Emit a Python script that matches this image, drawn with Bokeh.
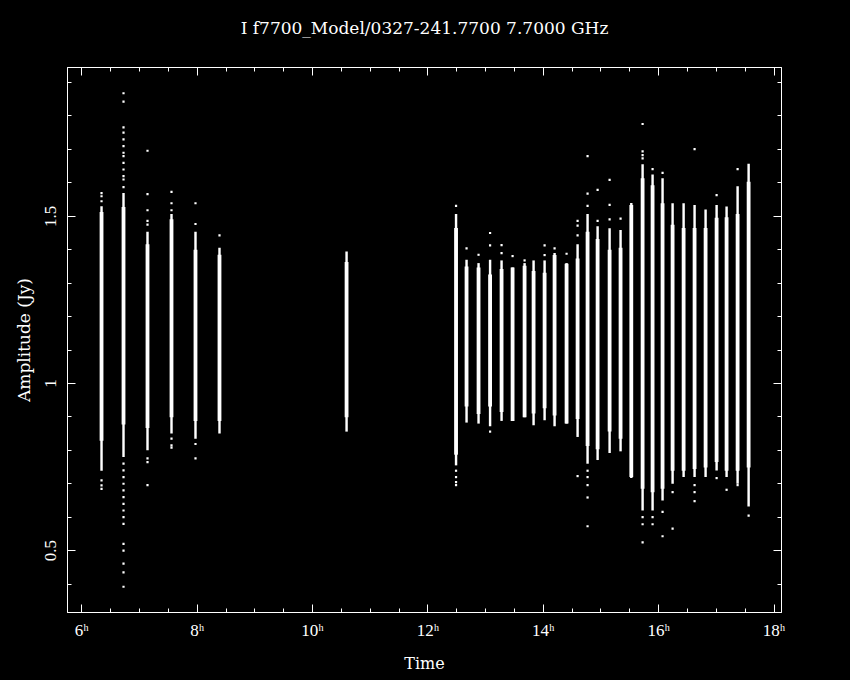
from bokeh.plotting import figure
from bokeh.models import (Range1d, LinearAxis, FixedTicker, GlobalInlineStyleSheet,
                          CustomLabelingPolicy)
from bokeh.embed import file_html
from bokeh.resources import INLINE

# ---------------- data ----------------
title_text = "I f7700_Model/0327-241.7700 7.7000 GHz"
x_label = "Time"
y_label = "Amplitude (Jy)"

x_tick_values = [6, 8, 10, 12, 14, 16, 18]
x_tick_labels = ["6\u02b0", "8\u02b0", "10\u02b0", "12\u02b0", "14\u02b0", "16\u02b0", "18\u02b0"]
y_tick_values = [0.5, 1.0, 1.5]
y_tick_labels = ["0.5", "1", "1.5"]

# scan centre times (hours)
scan_time = [6.342, 6.723, 7.139, 7.555, 7.971, 8.387, 10.590,
             12.488, 12.670, 12.878, 13.078, 13.277, 13.468, 13.676, 13.832,
             14.023, 14.196, 14.404, 14.595, 14.768, 14.942, 15.150, 15.340,
             15.526, 15.722, 15.895, 16.068, 16.242, 16.433, 16.623, 16.814,
             17.005, 17.178, 17.369, 17.560]
# dense core of each scan (Jy)
core_lo = [0.829, 0.877, 0.867, 0.899, 0.888, 0.888, 0.899,
           0.787, 0.931, 0.909, 0.931, 0.915, 0.888, 0.899, 0.910,
           0.926, 0.904, 0.880, 0.894, 0.813, 0.803, 0.856, 0.835,
           0.720, 0.685, 0.675, 0.685, 0.739, 0.739, 0.744, 0.749,
           0.765, 0.739, 0.739, 0.749]
core_hi = [1.513, 1.528, 1.416, 1.491, 1.400, 1.385, 1.363,
           1.465, 1.350, 1.347, 1.326, 1.342, 1.347, 1.352, 1.336,
           1.331, 1.384, 1.358, 1.374, 1.454, 1.432, 1.400, 1.406,
           1.534, 1.614, 1.593, 1.539, 1.475, 1.465, 1.465, 1.465,
           1.496, 1.497, 1.507, 1.603]
# sparser tails around the core (Jy)
tail_lo = [0.739, 0.780, 0.800, 0.850, 0.835, 0.850, 0.856,
           0.755, 0.883, 0.880, 0.872, 0.888, 0.888, 0.899, 0.875,
           0.890, 0.872, 0.880, 0.840, 0.760, 0.771, 0.792, 0.797,
           0.717, 0.620, 0.620, 0.650, 0.700, 0.720, 0.720, 0.720,
           0.740, 0.720, 0.700, 0.632]
tail_hi = [1.530, 1.570, 1.454, 1.507, 1.454, 1.406, 1.395,
           1.507, 1.370, 1.360, 1.370, 1.368, 1.347, 1.360, 1.368,
           1.368, 1.390, 1.360, 1.416, 1.507, 1.470, 1.464, 1.459,
           1.540, 1.656, 1.625, 1.614, 1.539, 1.539, 1.534, 1.520,
           1.534, 1.529, 1.590, 1.657]

# isolated points outside the tails
outlier_time = ([6.342] * 6 + [6.723] * 28 + [7.139] * 8 + [7.555] * 6 + [7.971] * 4
                + [8.387] * 1 + [12.488] * 5 + [12.670] + [12.878] + [13.078] * 3
                + [13.277] * 2 + [13.468] + [13.676] + [14.023] * 2 + [14.196]
                + [14.404] + [14.595] * 4 + [14.768] * 8 + [14.942] * 2 + [15.150] * 3
                + [15.340] + [15.722] * 7 + [15.895] * 3 + [16.068] * 3 + [16.242] * 2
                + [16.623] * 4 + [17.005] * 2 + [17.178] + [17.369] * 2 + [17.560])
outlier_amp = ([1.569, 1.560, 1.545, 0.710, 0.695, 0.685]
               + [1.868, 1.843, 1.766, 1.750, 1.730, 1.710, 1.690, 1.680, 1.660, 1.640,
                  1.620, 1.610, 1.587, 0.760, 0.740, 0.720, 0.700, 0.680, 0.660, 0.640,
                  0.620, 0.600, 0.580, 0.520, 0.500, 0.461, 0.435, 0.392]
               + [1.696, 1.566, 1.518, 1.486, 1.475, 0.776, 0.765, 0.696]
               + [1.573, 1.539, 1.518, 0.835, 0.815, 0.808]
               + [1.539, 1.477, 0.819, 0.776]
               + [1.443]
               + [1.531, 0.739, 0.720, 0.705, 0.696]
               + [1.404] + [1.385] + [1.450, 1.413, 0.856]
               + [1.414, 1.390] + [1.381] + [1.368] + [1.413, 1.384] + [1.404]
               + [1.388] + [1.486, 1.472, 1.443, 0.723]
               + [1.680, 1.568, 1.531, 0.739, 0.720, 0.696, 0.659, 0.573]
               + [1.579, 1.486] + [1.609, 1.534, 1.491]
               + [1.493] + [1.776, 1.694, 1.683, 1.673, 0.600, 0.579, 0.525]
               + [1.641, 0.600, 0.579] + [1.630, 0.616, 0.543] + [0.675, 0.566]
               + [1.701, 0.696, 0.675, 0.648] + [1.563, 0.717] + [0.682]
               + [1.641, 0.696] + [0.605])

x_minor = [5.5 + 0.5 * i for i in range(27)]
y_minor = [round(0.1 * i, 1) for i in range(3, 20)]

# ---------------- figure ----------------
SERIF = "DejaVu Serif"
TICKF = "Liberation Serif"
X0, X1 = 5.752, 18.13
Y0, Y1 = 0.315, 1.945

p = figure(width=850, height=680, output_backend="svg", toolbar_location=None,
           x_range=Range1d(X0, X1), y_range=Range1d(Y0, Y1),
           background_fill_color="black", border_fill_color="black",
           min_border_left=67, min_border_right=69, min_border_top=67,
           min_border_bottom=68)
p.stylesheets = [GlobalInlineStyleSheet(
    css="html, body { background-color: #000000; margin: 0; padding: 0; }")]
p.grid.visible = False
p.outline_line_color = "white"
p.outline_line_width = 1

p.title.text = title_text
p.title.align = "center"
p.title.text_color = "white"
p.title.text_font = SERIF
p.title.text_font_style = "normal"
p.title.text_font_size = "17px"
p.title.standoff = 28

xt = FixedTicker(ticks=x_tick_values, minor_ticks=x_minor)
yt = FixedTicker(ticks=y_tick_values, minor_ticks=y_minor)

def style(ax, show):
    ax.axis_line_color = "white"
    ax.major_tick_line_color = "white"
    ax.minor_tick_line_color = "white"
    ax.major_tick_in = 8
    ax.major_tick_out = 0
    ax.minor_tick_in = 4
    ax.minor_tick_out = 0
    if show:
        ax.major_label_text_color = "white"
        ax.major_label_text_font = TICKF
        ax.major_label_text_font_size = "17px"
        ax.axis_label_text_color = "white"
        ax.axis_label_text_font = SERIF
        ax.axis_label_text_font_style = "normal"
    else:
        ax.major_label_policy = CustomLabelingPolicy(code="return []")

xa = p.xaxis[0]
xa.ticker = xt
style(xa, True)
xa.major_label_overrides = dict(zip(x_tick_values, x_tick_labels))
xa.major_label_standoff = 8
xa.axis_label = x_label
xa.axis_label_text_font_size = "16px"
xa.axis_label_standoff = 11

ya = p.yaxis[0]
ya.ticker = yt
style(ya, True)
ya.major_label_overrides = dict(zip(y_tick_values, y_tick_labels))
ya.major_label_orientation = "vertical"
ya.major_label_standoff = 11
ya.axis_label = y_label
ya.axis_label_text_font_size = "17px"
ya.axis_label_standoff = 9

top = LinearAxis(ticker=xt)
style(top, False)
p.add_layout(top, "above")
right = LinearAxis(ticker=yt)
style(right, False)
p.add_layout(right, "right")

# ---------------- glyphs ----------------
p.vbar(x=scan_time, bottom=tail_lo, top=tail_hi, width=0.042,
       fill_color="white", line_color=None)
p.vbar(x=scan_time, bottom=core_lo, top=core_hi, width=0.066,
       fill_color="white", line_color=None)
p.scatter(x=outlier_time, y=outlier_amp, marker="square", size=2.2,
          fill_color="white", line_color=None)

open("out.html", "w").write(file_html(p, INLINE))
